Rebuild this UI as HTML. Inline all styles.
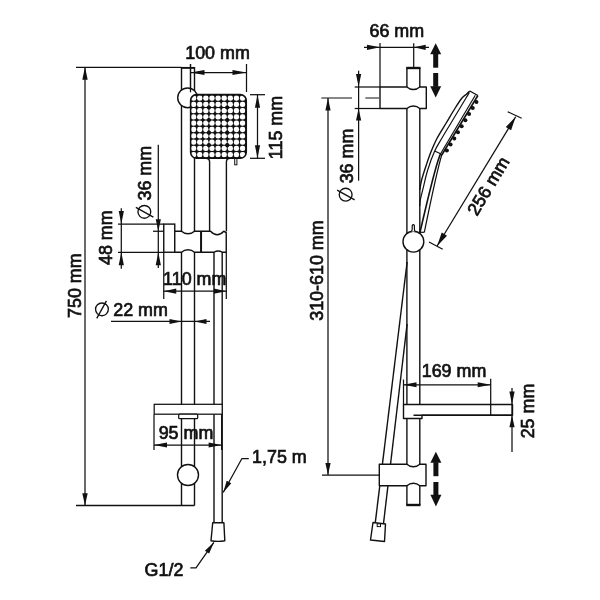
<!DOCTYPE html>
<html><head><meta charset="utf-8"><style>
html,body{margin:0;padding:0;background:#fff;}
svg{display:block;will-change:transform;}
text{font-family:"Liberation Sans",sans-serif;fill:#111;stroke:#111;stroke-width:0.7px;}
</style></head><body>
<svg width="600" height="600" viewBox="0 0 600 600">
<rect width="600" height="600" fill="#fff"/>
<line x1="76" y1="67.3" x2="181.5" y2="67.3" stroke="#111" stroke-width="1.25" />
<line x1="181" y1="67.9" x2="195" y2="67.9" stroke="#111" stroke-width="1.9" />
<line x1="76" y1="505.5" x2="194.5" y2="505.5" stroke="#111" stroke-width="1.6" />
<line x1="85" y1="67" x2="85" y2="505.5" stroke="#111" stroke-width="1.25" />
<polygon points="85,67 87.7,79.7 82.3,79.7" fill="#111"/>
<polygon points="85,505.5 82.3,493.3 87.7,493.3" fill="#111"/>
<text transform="translate(81,285.7) rotate(-90)" text-anchor="middle" font-size="17.9">750 mm</text>
<line x1="181.5" y1="67" x2="181.5" y2="505.5" stroke="#111" stroke-width="1.4" />
<line x1="194.5" y1="67" x2="194.5" y2="505.5" stroke="#111" stroke-width="1.4" />
<line x1="190.5" y1="64" x2="190.5" y2="92" stroke="#111" stroke-width="1.25" />
<line x1="246.5" y1="64" x2="246.5" y2="92" stroke="#111" stroke-width="1.25" />
<line x1="190.5" y1="72.5" x2="246.5" y2="72.5" stroke="#111" stroke-width="1.25" />
<polygon points="190.5,72.5 204.5,69.9 204.5,75.1" fill="#111"/>
<polygon points="246.5,72.5 232.5,75.1 232.5,69.9" fill="#111"/>
<text transform="translate(217.5,58.7) rotate(0)" text-anchor="middle" font-size="17.9">100 mm</text>
<circle cx="187.6" cy="97.85" r="9.9" fill="#fff" stroke="#111" stroke-width="1.4"/>
<line x1="190.5" y1="64" x2="190.5" y2="92.3" stroke="#111" stroke-width="1.25" />
<path d="M209.6,231.3 L209.6,162 Q209.6,158.3 205.8,158.3" fill="none" stroke="#111" stroke-width="1.4" stroke-linejoin="round" />
<path d="M226.4,231.3 L226.4,162 Q226.4,158.3 230.2,158.3" fill="none" stroke="#111" stroke-width="1.4" stroke-linejoin="round" />
<rect x="234.7" y="158.3" width="2.2" height="6.5" rx="0" fill="#fff" stroke="#111" stroke-width="1.0"/>
<clipPath id="hc"><rect x="190.6" y="94.6" width="55.7" height="63.7" rx="6"/></clipPath>
<rect x="190.6" y="94.6" width="55.7" height="63.7" rx="6" fill="#111"/>
<g clip-path="url(#hc)"><rect x="190.95" y="95.45" width="5.3" height="5.3" rx="2.3" fill="#fff"/><rect x="197.07" y="95.45" width="5.3" height="5.3" rx="2.3" fill="#fff"/><rect x="203.19" y="95.45" width="5.3" height="5.3" rx="2.3" fill="#fff"/><rect x="209.31" y="95.45" width="5.3" height="5.3" rx="2.3" fill="#fff"/><rect x="215.43" y="95.45" width="5.3" height="5.3" rx="2.3" fill="#fff"/><rect x="221.55" y="95.45" width="5.3" height="5.3" rx="2.3" fill="#fff"/><rect x="227.67" y="95.45" width="5.3" height="5.3" rx="2.3" fill="#fff"/><rect x="233.79" y="95.45" width="5.3" height="5.3" rx="2.3" fill="#fff"/><rect x="239.91" y="95.45" width="5.3" height="5.3" rx="2.3" fill="#fff"/><rect x="190.95" y="101.73" width="5.3" height="5.3" rx="2.3" fill="#fff"/><rect x="197.07" y="101.73" width="5.3" height="5.3" rx="2.3" fill="#fff"/><rect x="203.19" y="101.73" width="5.3" height="5.3" rx="2.3" fill="#fff"/><rect x="209.31" y="101.73" width="5.3" height="5.3" rx="2.3" fill="#fff"/><rect x="215.43" y="101.73" width="5.3" height="5.3" rx="2.3" fill="#fff"/><rect x="221.55" y="101.73" width="5.3" height="5.3" rx="2.3" fill="#fff"/><rect x="227.67" y="101.73" width="5.3" height="5.3" rx="2.3" fill="#fff"/><rect x="233.79" y="101.73" width="5.3" height="5.3" rx="2.3" fill="#fff"/><rect x="239.91" y="101.73" width="5.3" height="5.3" rx="2.3" fill="#fff"/><rect x="190.95" y="108.01" width="5.3" height="5.3" rx="2.3" fill="#fff"/><rect x="197.07" y="108.01" width="5.3" height="5.3" rx="2.3" fill="#fff"/><rect x="203.19" y="108.01" width="5.3" height="5.3" rx="2.3" fill="#fff"/><rect x="209.31" y="108.01" width="5.3" height="5.3" rx="2.3" fill="#fff"/><rect x="215.43" y="108.01" width="5.3" height="5.3" rx="2.3" fill="#fff"/><rect x="221.55" y="108.01" width="5.3" height="5.3" rx="2.3" fill="#fff"/><rect x="227.67" y="108.01" width="5.3" height="5.3" rx="2.3" fill="#fff"/><rect x="233.79" y="108.01" width="5.3" height="5.3" rx="2.3" fill="#fff"/><rect x="239.91" y="108.01" width="5.3" height="5.3" rx="2.3" fill="#fff"/><rect x="190.95" y="114.29" width="5.3" height="5.3" rx="2.3" fill="#fff"/><rect x="197.07" y="114.29" width="5.3" height="5.3" rx="2.3" fill="#fff"/><rect x="203.19" y="114.29" width="5.3" height="5.3" rx="2.3" fill="#fff"/><rect x="209.31" y="114.29" width="5.3" height="5.3" rx="2.3" fill="#fff"/><rect x="215.43" y="114.29" width="5.3" height="5.3" rx="2.3" fill="#fff"/><rect x="221.55" y="114.29" width="5.3" height="5.3" rx="2.3" fill="#fff"/><rect x="227.67" y="114.29" width="5.3" height="5.3" rx="2.3" fill="#fff"/><rect x="233.79" y="114.29" width="5.3" height="5.3" rx="2.3" fill="#fff"/><rect x="239.91" y="114.29" width="5.3" height="5.3" rx="2.3" fill="#fff"/><rect x="190.95" y="120.57" width="5.3" height="5.3" rx="2.3" fill="#fff"/><rect x="197.07" y="120.57" width="5.3" height="5.3" rx="2.3" fill="#fff"/><rect x="203.19" y="120.57" width="5.3" height="5.3" rx="2.3" fill="#fff"/><rect x="209.31" y="120.57" width="5.3" height="5.3" rx="2.3" fill="#fff"/><rect x="215.43" y="120.57" width="5.3" height="5.3" rx="2.3" fill="#fff"/><rect x="221.55" y="120.57" width="5.3" height="5.3" rx="2.3" fill="#fff"/><rect x="227.67" y="120.57" width="5.3" height="5.3" rx="2.3" fill="#fff"/><rect x="233.79" y="120.57" width="5.3" height="5.3" rx="2.3" fill="#fff"/><rect x="239.91" y="120.57" width="5.3" height="5.3" rx="2.3" fill="#fff"/><rect x="190.95" y="126.85" width="5.3" height="5.3" rx="2.3" fill="#fff"/><rect x="197.07" y="126.85" width="5.3" height="5.3" rx="2.3" fill="#fff"/><rect x="203.19" y="126.85" width="5.3" height="5.3" rx="2.3" fill="#fff"/><rect x="209.31" y="126.85" width="5.3" height="5.3" rx="2.3" fill="#fff"/><rect x="215.43" y="126.85" width="5.3" height="5.3" rx="2.3" fill="#fff"/><rect x="221.55" y="126.85" width="5.3" height="5.3" rx="2.3" fill="#fff"/><rect x="227.67" y="126.85" width="5.3" height="5.3" rx="2.3" fill="#fff"/><rect x="233.79" y="126.85" width="5.3" height="5.3" rx="2.3" fill="#fff"/><rect x="239.91" y="126.85" width="5.3" height="5.3" rx="2.3" fill="#fff"/><rect x="190.95" y="133.13" width="5.3" height="5.3" rx="2.3" fill="#fff"/><rect x="197.07" y="133.13" width="5.3" height="5.3" rx="2.3" fill="#fff"/><rect x="203.19" y="133.13" width="5.3" height="5.3" rx="2.3" fill="#fff"/><rect x="209.31" y="133.13" width="5.3" height="5.3" rx="2.3" fill="#fff"/><rect x="215.43" y="133.13" width="5.3" height="5.3" rx="2.3" fill="#fff"/><rect x="221.55" y="133.13" width="5.3" height="5.3" rx="2.3" fill="#fff"/><rect x="227.67" y="133.13" width="5.3" height="5.3" rx="2.3" fill="#fff"/><rect x="233.79" y="133.13" width="5.3" height="5.3" rx="2.3" fill="#fff"/><rect x="239.91" y="133.13" width="5.3" height="5.3" rx="2.3" fill="#fff"/><rect x="190.95" y="139.41" width="5.3" height="5.3" rx="2.3" fill="#fff"/><rect x="197.07" y="139.41" width="5.3" height="5.3" rx="2.3" fill="#fff"/><rect x="203.19" y="139.41" width="5.3" height="5.3" rx="2.3" fill="#fff"/><rect x="209.31" y="139.41" width="5.3" height="5.3" rx="2.3" fill="#fff"/><rect x="215.43" y="139.41" width="5.3" height="5.3" rx="2.3" fill="#fff"/><rect x="221.55" y="139.41" width="5.3" height="5.3" rx="2.3" fill="#fff"/><rect x="227.67" y="139.41" width="5.3" height="5.3" rx="2.3" fill="#fff"/><rect x="233.79" y="139.41" width="5.3" height="5.3" rx="2.3" fill="#fff"/><rect x="239.91" y="139.41" width="5.3" height="5.3" rx="2.3" fill="#fff"/><rect x="190.95" y="145.69" width="5.3" height="5.3" rx="2.3" fill="#fff"/><rect x="197.07" y="145.69" width="5.3" height="5.3" rx="2.3" fill="#fff"/><rect x="203.19" y="145.69" width="5.3" height="5.3" rx="2.3" fill="#fff"/><rect x="209.31" y="145.69" width="5.3" height="5.3" rx="2.3" fill="#fff"/><rect x="215.43" y="145.69" width="5.3" height="5.3" rx="2.3" fill="#fff"/><rect x="221.55" y="145.69" width="5.3" height="5.3" rx="2.3" fill="#fff"/><rect x="227.67" y="145.69" width="5.3" height="5.3" rx="2.3" fill="#fff"/><rect x="233.79" y="145.69" width="5.3" height="5.3" rx="2.3" fill="#fff"/><rect x="239.91" y="145.69" width="5.3" height="5.3" rx="2.3" fill="#fff"/><rect x="190.95" y="151.97" width="5.3" height="5.3" rx="2.3" fill="#fff"/><rect x="197.07" y="151.97" width="5.3" height="5.3" rx="2.3" fill="#fff"/><rect x="203.19" y="151.97" width="5.3" height="5.3" rx="2.3" fill="#fff"/><rect x="209.31" y="151.97" width="5.3" height="5.3" rx="2.3" fill="#fff"/><rect x="215.43" y="151.97" width="5.3" height="5.3" rx="2.3" fill="#fff"/><rect x="221.55" y="151.97" width="5.3" height="5.3" rx="2.3" fill="#fff"/><rect x="227.67" y="151.97" width="5.3" height="5.3" rx="2.3" fill="#fff"/><rect x="233.79" y="151.97" width="5.3" height="5.3" rx="2.3" fill="#fff"/><rect x="239.91" y="151.97" width="5.3" height="5.3" rx="2.3" fill="#fff"/></g>
<circle cx="208.9" cy="107.52" r="2.1" fill="#111"/>
<circle cx="227.26" cy="107.52" r="2.1" fill="#111"/>
<circle cx="208.9" cy="120.08" r="2.1" fill="#111"/>
<circle cx="227.26" cy="120.08" r="2.1" fill="#111"/>
<circle cx="208.9" cy="132.64" r="2.1" fill="#111"/>
<circle cx="227.26" cy="132.64" r="2.1" fill="#111"/>
<circle cx="208.9" cy="145.2" r="2.1" fill="#111"/>
<circle cx="227.26" cy="145.2" r="2.1" fill="#111"/>
<rect x="190.6" y="94.6" width="55.7" height="63.7" rx="6" fill="none" stroke="#111" stroke-width="1.5"/>
<line x1="250" y1="94.7" x2="265" y2="94.7" stroke="#111" stroke-width="1.25" />
<line x1="250" y1="158.3" x2="265" y2="158.3" stroke="#111" stroke-width="1.25" />
<line x1="257.5" y1="94.7" x2="257.5" y2="158.3" stroke="#111" stroke-width="1.25" />
<polygon points="257.5,94.7 260.1,107.7 254.9,107.7" fill="#111"/>
<polygon points="257.5,158.3 254.9,145.3 260.1,145.3" fill="#111"/>
<text transform="translate(281.7,127.5) rotate(-90)" text-anchor="middle" font-size="17.9">115 mm</text>
<rect x="163.75" y="224.1" width="11" height="28.15" rx="0" fill="#fff" stroke="#111" stroke-width="1.4"/>
<path d="M174.75,231.25 L181.5,231.25 A9.5,9.5 0 0 0 194.5,231.25 L201.1,231.25 L201.1,252.25 L194.5,252.25 A9.5,9.5 0 0 0 181.5,252.25 L174.75,252.25 Z" fill="#fff" stroke="#111" stroke-width="1.4" stroke-linejoin="round" />
<path d="M201.1,231.25 L210.6,231.25 Q217.2,238.3 223.75,231.25 L226.25,232.5 L226.25,252.25 L222.3,252.25 Q218.1,249.8 214,252.25 L201.1,252.25" fill="#fff" stroke="#111" stroke-width="1.4" stroke-linejoin="round" />
<line x1="201.1" y1="231.25" x2="201.1" y2="252.25" stroke="#111" stroke-width="1.9" />
<line x1="118" y1="224.1" x2="163.75" y2="224.1" stroke="#111" stroke-width="1.25" />
<line x1="118" y1="252.25" x2="163.75" y2="252.25" stroke="#111" stroke-width="1.25" />
<line x1="121.3" y1="208.3" x2="121.3" y2="268.7" stroke="#111" stroke-width="1.25" />
<polygon points="121.3,224.1 118.7,211.1 123.9,211.1" fill="#111"/>
<polygon points="121.3,252.25 123.9,265.25 118.7,265.25" fill="#111"/>
<text transform="translate(112.2,237.7) rotate(-90)" text-anchor="middle" font-size="17.9">48 mm</text>
<line x1="153" y1="231.25" x2="163.75" y2="231.25" stroke="#111" stroke-width="1.25" />
<line x1="158.3" y1="144.7" x2="158.3" y2="268" stroke="#111" stroke-width="1.25" />
<polygon points="158.3,231.25 155.7,219.25 160.9,219.25" fill="#111"/>
<polygon points="158.3,252.25 160.9,265.25 155.7,265.25" fill="#111"/>
<g transform="translate(151.2,218.55) rotate(-90)"><circle cx="6.7" cy="-6.85" r="6.4" fill="none" stroke="#111" stroke-width="1.35"/><line x1="1.5" y1="2.15" x2="11.2" y2="-15.35" stroke="#111" stroke-width="1.35"/><text x="18" y="0" font-size="17.9">36 mm</text></g>
<line x1="163.75" y1="252.25" x2="163.75" y2="299" stroke="#111" stroke-width="1.25" />
<line x1="226.3" y1="252.25" x2="226.3" y2="299" stroke="#111" stroke-width="1.25" />
<line x1="163.75" y1="291.2" x2="226.3" y2="291.2" stroke="#111" stroke-width="1.25" />
<polygon points="163.75,291.2 176.25,288.6 176.25,293.8" fill="#111"/>
<polygon points="226.3,291.2 213.8,293.8 213.8,288.6" fill="#111"/>
<text transform="translate(194.75,284.5) rotate(0)" text-anchor="middle" font-size="17.9">110 mm</text>
<line x1="214" y1="252.25" x2="214" y2="523" stroke="#111" stroke-width="1.4" />
<line x1="222.2" y1="252.25" x2="222.2" y2="523" stroke="#111" stroke-width="1.4" />
<line x1="111" y1="321.4" x2="210" y2="321.4" stroke="#111" stroke-width="1.25" />
<polygon points="181.5,321.4 169.5,323.9 169.5,318.9" fill="#111"/>
<polygon points="194.5,321.4 206.5,318.9 206.5,323.9" fill="#111"/>
<g transform="translate(95.25,316.2) rotate(0)"><circle cx="6.7" cy="-6.85" r="6.4" fill="none" stroke="#111" stroke-width="1.35"/><line x1="1.5" y1="2.15" x2="11.2" y2="-15.35" stroke="#111" stroke-width="1.35"/><text x="18" y="0" font-size="17.9">22 mm</text></g>
<rect x="154.2" y="404.3" width="68" height="9.9" rx="0" fill="#fff" stroke="#111" stroke-width="1.25"/>
<rect x="178.7" y="414.2" width="19" height="4.5" rx="1" fill="#fff" stroke="#111" stroke-width="1.25"/>
<line x1="154" y1="414.4" x2="154" y2="450" stroke="#111" stroke-width="1.25" />
<line x1="221.6" y1="414.4" x2="221.6" y2="450" stroke="#111" stroke-width="1.25" />
<line x1="154" y1="445" x2="221.6" y2="445" stroke="#111" stroke-width="1.25" />
<polygon points="154,445 167,442.5 167,447.5" fill="#111"/>
<polygon points="221.6,445 208.6,447.5 208.6,442.5" fill="#111"/>
<text transform="translate(186,439) rotate(0)" text-anchor="middle" font-size="17.9">95 mm</text>
<circle cx="188" cy="475" r="10.5" fill="#fff" stroke="#111" stroke-width="1.4"/>
<path d="M248.8,458.7 L241.8,458.7 L223.2,492.5" fill="none" stroke="#111" stroke-width="1.25" stroke-linejoin="round" />
<polygon points="223.2,492.5 226.71,480.73 231.26,483.24" fill="#111"/>
<text transform="translate(279.4,463.3) rotate(0)" text-anchor="middle" font-size="17.9">1,75 m</text>
<path d="M212.7,522.8 L223.9,522.8 L224.8,540.8 Q218,542 211,540.8 Z" fill="#fff" stroke="#111" stroke-width="1.4" stroke-linejoin="round" />
<path d="M190.3,567.9 L196,567.9 L213.9,542.3" fill="none" stroke="#111" stroke-width="1.25" stroke-linejoin="round" />
<polygon points="213.9,542.3 209.15,553.62 204.89,550.64" fill="#111"/>
<text transform="translate(164,575.8) rotate(0)" text-anchor="middle" font-size="17.9">G1/2</text>
<line x1="406.9" y1="68" x2="406.9" y2="505" stroke="#111" stroke-width="1.4" />
<line x1="419.8" y1="68" x2="419.8" y2="505" stroke="#111" stroke-width="1.4" />
<line x1="406.2" y1="68" x2="420.5" y2="68" stroke="#111" stroke-width="2.4" />
<line x1="406.2" y1="505" x2="420.5" y2="505" stroke="#111" stroke-width="2.4" />
<path d="M380,87 L406.9,87 A9.5,9.5 0 0 0 419.8,87 L426.3,87 L426.3,108.5 L419.8,108.5 A9.5,9.5 0 0 0 406.9,108.5 L380,108.5 Z" fill="#fff" stroke="#111" stroke-width="1.4" stroke-linejoin="round" />
<line x1="380" y1="43" x2="380" y2="87" stroke="#111" stroke-width="1.25" />
<line x1="413.7" y1="43.3" x2="413.7" y2="67.7" stroke="#111" stroke-width="1.25" />
<line x1="364" y1="47.3" x2="429" y2="47.3" stroke="#111" stroke-width="1.25" />
<polygon points="380,47.3 367,49.9 367,44.7" fill="#111"/>
<polygon points="413.7,47.3 425.7,44.7 425.7,49.9" fill="#111"/>
<text transform="translate(396.8,37) rotate(0)" text-anchor="middle" font-size="17.9">66 mm</text>
<polygon points="435.7,43.3 441.2,54.3 430.2,54.3" fill="#111"/>
<rect x="433.2" y="53.8" width="5" height="13.9" fill="#111"/>
<rect x="433.2" y="73" width="5" height="13.8" fill="#111"/>
<polygon points="435.7,97.4 441.2,86.3 430.2,86.3" fill="#111"/>
<polygon points="435.9,451.7 441.4,462.8 430.4,462.8" fill="#111"/>
<rect x="433.4" y="462.3" width="5" height="13.9" fill="#111"/>
<rect x="433.4" y="482" width="5" height="13.3" fill="#111"/>
<polygon points="435.9,506.5 441.4,494.8 430.4,494.8" fill="#111"/>
<line x1="321.3" y1="98" x2="352" y2="98" stroke="#111" stroke-width="1.0" />
<line x1="365.3" y1="98" x2="379" y2="98" stroke="#111" stroke-width="1.0" />
<line x1="354.7" y1="87" x2="380" y2="87" stroke="#111" stroke-width="1.25" />
<line x1="354.7" y1="108.5" x2="380" y2="108.5" stroke="#111" stroke-width="1.25" />
<line x1="358.6" y1="70.7" x2="358.6" y2="180.7" stroke="#111" stroke-width="1.25" />
<polygon points="358.6,87 356,74 361.2,74" fill="#111"/>
<polygon points="358.6,108.5 361.2,120.5 356,120.5" fill="#111"/>
<g transform="translate(352.5,201.35) rotate(-90)"><circle cx="6.7" cy="-6.85" r="6.4" fill="none" stroke="#111" stroke-width="1.35"/><line x1="1.5" y1="2.15" x2="11.2" y2="-15.35" stroke="#111" stroke-width="1.35"/><text x="18" y="0" font-size="17.9">36 mm</text></g>
<line x1="328" y1="98" x2="328" y2="475" stroke="#111" stroke-width="1.25" />
<polygon points="328,98 330.6,110.6 325.4,110.6" fill="#111"/>
<polygon points="328,475 325.4,463 330.6,463" fill="#111"/>
<line x1="322" y1="475" x2="379.3" y2="475" stroke="#111" stroke-width="1.25" />
<text transform="translate(322.7,270.6) rotate(-90)" text-anchor="middle" font-size="17.9">310-610 mm</text>
<path d="M407.1,262 L375.3,522.5" fill="none" stroke="#111" stroke-width="1.4" stroke-linejoin="round" />
<path d="M407.1,324 L383.5,523.5" fill="none" stroke="#111" stroke-width="1.4" stroke-linejoin="round" />
<path d="M373,522.5 L385.5,524 L384.5,541.5 L370.5,540 Z" fill="#fff" stroke="#111" stroke-width="1.4" stroke-linejoin="round" />
<rect x="377.2" y="523.8" width="3.3" height="2.8" rx="0" fill="#fff" stroke="#111" stroke-width="1.0"/>
<path d="M403.5,404.5 L512.5,404.5 L512.5,415.2 L422,415.2 L422,418.5 L403.5,418.5 Z" fill="#fff" stroke="#111" stroke-width="1.4" stroke-linejoin="round" />
<line x1="413.5" y1="415.2" x2="512.5" y2="415.2" stroke="#111" stroke-width="1.4" />
<line x1="403.5" y1="379.5" x2="403.5" y2="404.5" stroke="#111" stroke-width="1.25" />
<line x1="490.7" y1="378.7" x2="490.7" y2="415" stroke="#111" stroke-width="1.25" />
<line x1="403.5" y1="384.8" x2="490.7" y2="384.8" stroke="#111" stroke-width="1.25" />
<polygon points="403.5,384.8 416.5,382.3 416.5,387.3" fill="#111"/>
<polygon points="490.7,384.8 477.7,387.3 477.7,382.3" fill="#111"/>
<text transform="translate(454,376.8) rotate(0)" text-anchor="middle" font-size="17.9">169 mm</text>
<line x1="512" y1="388" x2="512" y2="452" stroke="#111" stroke-width="1.25" />
<polygon points="512,404.5 509.4,391.5 514.6,391.5" fill="#111"/>
<polygon points="512,415.2 514.6,427.2 509.4,427.2" fill="#111"/>
<text transform="translate(534,411) rotate(-90)" text-anchor="middle" font-size="17.9">25 mm</text>
<path d="M379.3,464.2 L406.9,464.2 A9.5,9.5 0 0 0 419.8,464.2 L426,464.2 L426,485.8 L419.8,485.8 A9.5,9.5 0 0 0 406.9,485.8 L379.3,485.8 Z" fill="#fff" stroke="#111" stroke-width="1.4" stroke-linejoin="round" />
<path d="M469.8,91 C469.28,91.5 468,92.83 466.7,94 C465.4,95.17 463.92,95.67 462,98 C460.08,100.33 457.83,103.83 455.2,108 C452.57,112.17 449.2,118 446.2,123 C443.2,128 439.73,133.22 437.2,138 C434.67,142.78 432.03,149.42 431,151.7 L440.6,153.8 L441.75,155 L477.9,95.5 Z" fill="#fff" stroke="none"/>
<path d="M469.8,91 C469.28,91.5 468,92.83 466.7,94 C465.4,95.17 463.92,95.67 462,98 C460.08,100.33 457.83,103.83 455.2,108 C452.57,112.17 449.2,118 446.2,123 C443.2,128 439.73,133.22 437.2,138 C434.67,142.78 432.82,147.2 431,151.7 C429.18,156.2 427.87,160.28 426.3,165 C424.73,169.72 422.68,175.83 421.6,180 C420.52,184.17 420.1,188.33 419.8,190" fill="none" stroke="#111" stroke-width="1.4" stroke-linejoin="round" />
<path d="M469.4,92.5 C468.83,93.42 467.57,95.42 466,98 C464.43,100.58 462.5,103.83 460,108 C457.5,112.17 454,118 451,123 C448,128 444.73,133.28 442,138 C439.27,142.72 436.98,145.97 434.6,151.3 C432.22,156.63 429.63,163.77 427.7,170 C425.77,176.23 424.23,183.7 423,188.7 C421.77,193.7 420.83,197.12 420.3,200 C419.77,202.88 419.88,205 419.8,206" fill="none" stroke="#111" stroke-width="1.2" stroke-linejoin="round" />
<path d="M469.8,91 L477.9,95.5" fill="none" stroke="#111" stroke-width="1.4" stroke-linejoin="round" />
<path d="M475.3,95.2 L440.6,153.8" fill="none" stroke="#111" stroke-width="1.2" stroke-linejoin="round" />
<path d="M477.9,95.5 L441.75,155" fill="none" stroke="#111" stroke-width="1.6" stroke-linejoin="round" />
<path d="M434.6,151 L440.6,153.8 L441.75,155" fill="none" stroke="#111" stroke-width="1.2" stroke-linejoin="round" />
<circle cx="476.45" cy="101.9" r="2.0" fill="#111"/>
<circle cx="472.76" cy="107.98" r="2.0" fill="#111"/>
<circle cx="469.07" cy="114.06" r="2.0" fill="#111"/>
<circle cx="465.37" cy="120.14" r="2.0" fill="#111"/>
<circle cx="461.68" cy="126.22" r="2.0" fill="#111"/>
<circle cx="457.98" cy="132.3" r="2.0" fill="#111"/>
<circle cx="454.29" cy="138.38" r="2.0" fill="#111"/>
<circle cx="450.59" cy="144.46" r="2.0" fill="#111"/>
<circle cx="446.9" cy="150.54" r="2.0" fill="#111"/>
<path d="M440.6,153.8 Q436,162.7 420,232.3" fill="none" stroke="#111" stroke-width="1.6" stroke-linejoin="round" />
<path d="M441.75,155 Q437.5,168 424.3,232.3" fill="none" stroke="#111" stroke-width="1.2" stroke-linejoin="round" />
<path d="M420,232.3 L424.3,232.3" fill="none" stroke="#111" stroke-width="1.2" stroke-linejoin="round" />
<circle cx="413.4" cy="241.7" r="10.4" fill="#fff" stroke="#111" stroke-width="1.4"/>
<path d="M411.4,231.5 Q412.2,230.5 412.2,229 L412.2,225.6 Q413.3,223.6 414.4,225.6 L414.4,229 Q414.4,230.5 415.2,231.5" fill="#fff" stroke="#111" stroke-width="1.2" stroke-linejoin="round" />
<line x1="515.7" y1="116.7" x2="437.1" y2="246" stroke="#111" stroke-width="1.25" />
<polygon points="515.7,116.7 511.08,130.27 505.78,127.05" fill="#111"/>
<polygon points="437.1,246 441.72,232.43 447.02,235.65" fill="#111"/>
<line x1="507.7" y1="111.7" x2="521.7" y2="118.3" stroke="#111" stroke-width="1.25" />
<line x1="429" y1="242" x2="442.7" y2="249.3" stroke="#111" stroke-width="1.25" />
<text transform="translate(493.5,189.1) rotate(-59.2)" text-anchor="middle" font-size="17.9">256 mm</text>
</svg></body></html>
